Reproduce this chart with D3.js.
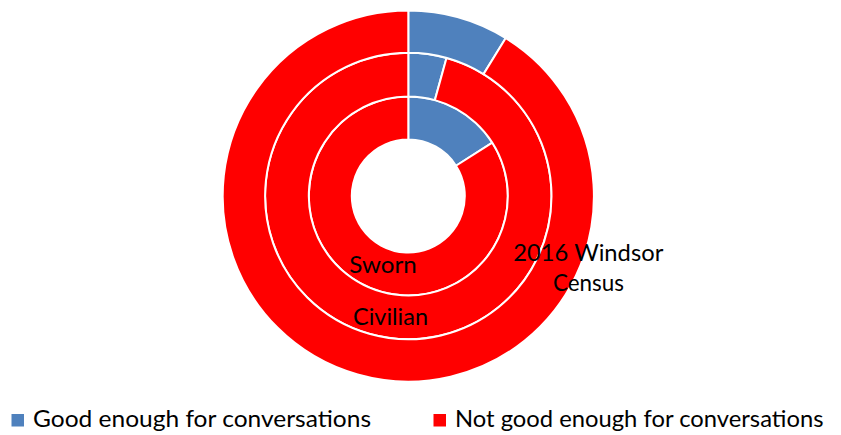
<!DOCTYPE html>
<html>
<head>
<meta charset="utf-8">
<script src="https://cdn.jsdelivr.net/npm/d3@7"></script>
<style>
  html, body { margin: 0; padding: 0; background: #fff; }
  svg { display: block; }
  text { font-family: Lato, "Open Sans", sans-serif; fill: #000; }
</style>
</head>
<body>
<svg id="chart" width="841" height="435"></svg>
<script>
// ---- data ----
const categories = ["Good enough for conversations", "Not good enough for conversations"];
const seriesNames = ["Sworn", "Civilian", "2016 Windsor Census"];
const swornValues = [16.0, 84.0];
const civilianValues = [4.3, 95.7];
const censusValues = [8.8, 91.2];
const colors = ["#4F81BD", "#FF0000"];

const seriesValues = [swornValues, civilianValues, censusValues];

// ---- layout ----
const W = 841, H = 435;
const cx = 408.3, cy = 196;
const radii = [56.5, 99.5, 143.2, 185.6];
const FONT = 24;

const svg = d3.select("#chart");
const g = svg.append("g").attr("transform", `translate(${cx},${cy})`);

const color = d3.scaleOrdinal().domain(categories).range(colors);
const pie = d3.pie().sort(null).value(d => d.value);

seriesNames.forEach((name, i) => {
  const arc = d3.arc().innerRadius(radii[i]).outerRadius(radii[i + 1]);
  const data = pie(categories.map((c, j) => ({ cat: c, value: seriesValues[i][j] })));
  g.append("g").attr("class", "ring")
    .selectAll("path").data(data).enter().append("path")
    .attr("d", arc)
    .attr("fill", d => color(d.data.cat))
    .attr("stroke", "#fff")
    .attr("stroke-width", 2)
    .attr("stroke-linejoin", "round");
});

// set text to a target width while keeping glyph height
function fit(sel, target) {
  sel.attr("font-size", FONT)
    .attr("textLength", target)
    .attr("lengthAdjust", "spacingAndGlyphs");
}

// ---- series labels ----
const lblSworn = g.append("text").attr("text-anchor", "middle")
  .attr("x", 383 - cx).attr("y", 272.5 - cy).text(seriesNames[0]);
fit(lblSworn, 67.5);
const lblCiv = g.append("text").attr("text-anchor", "middle")
  .attr("x", 390.5 - cx).attr("y", 325 - cy).text(seriesNames[1]);
fit(lblCiv, 75);
const censusWords = seriesNames[2].split(" ");
const lblC1 = g.append("text").attr("text-anchor", "middle")
  .attr("x", 588.3 - cx).attr("y", 261 - cy).text(censusWords.slice(0, 2).join(" "));
fit(lblC1, 150);
const lblC2 = g.append("text").attr("text-anchor", "middle")
  .attr("x", 588.5 - cx).attr("y", 290.5 - cy).text(censusWords[2]);
fit(lblC2, 71);

// ---- legend ----
const legendX = [11.5, 433.5];
const legend = svg.append("g").attr("class", "legend");
categories.forEach((c, i) => {
  const lg = legend.append("g");
  lg.append("rect").attr("x", legendX[i]).attr("y", 414)
    .attr("width", 12.5).attr("height", 12.5).attr("fill", color(c));
  const t = lg.append("text").attr("x", legendX[i] + 21.5).attr("y", 427.3).text(c);
  fit(t, i === 0 ? 338 : 368.5);
});
</script>
</body>
</html>
